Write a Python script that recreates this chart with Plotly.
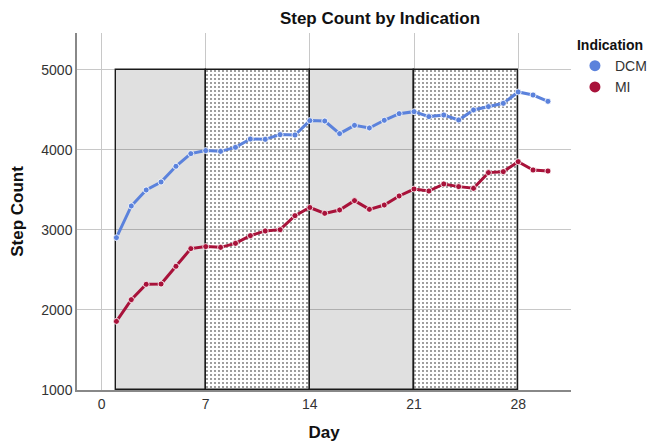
import plotly.graph_objects as go

days = list(range(1, 31))
dcm = [2904, 3300, 3500, 3600, 3796, 3954, 3992, 3983, 4033, 4137,
       4133, 4192, 4187, 4367, 4362, 4204, 4308, 4275, 4371, 4454,
       4479, 4417, 4437, 4375, 4500, 4542, 4583, 4725, 4687, 4608]
mi = [1858, 2129, 2321, 2325, 2546, 2767, 2792, 2783, 2833, 2929,
      2988, 3004, 3179, 3281, 3208, 3250, 3367, 3258, 3312, 3425,
      3512, 3487, 3575, 3542, 3521, 3717, 3729, 3854, 3750, 3737]

period_start = [1, 7, 14, 21]
period_end = [7, 14, 21, 28]
period_style = ["solid", "dotted", "solid", "dotted"]
band_bottom = 1000
band_top = 5000

x_ticks = [0, 7, 14, 21, 28]
y_ticks = [1000, 2000, 3000, 4000, 5000]

DCM_COLOR = "#5B82DC"
MI_COLOR = "#A8123A"
FONT = "Arial, Liberation Sans, sans-serif"

fig = go.Figure()

def band_trace(style):
    idx = [i for i, s in enumerate(period_style) if s == style]
    xs = [(period_start[i] + period_end[i]) / 2 for i in idx]
    ws = [period_end[i] - period_start[i] for i in idx]
    hs = [band_top - band_bottom for _ in idx]
    marker = dict(line=dict(color="#1a1a1a", width=1.4))
    if style == "solid":
        marker["color"] = "rgba(0,0,0,0.12)"
    else:
        marker["color"] = "rgba(0,0,0,0)"
        marker["pattern"] = dict(shape=".", size=4, solidity=0.16,
                                 fgcolor="#707070", bgcolor="rgba(0,0,0,0)",
                                 fillmode="replace")
    return go.Bar(x=xs, y=hs, base=[band_bottom] * len(idx), width=ws,
                  marker=marker, showlegend=False, hoverinfo="skip")

fig.add_trace(band_trace("solid"))
fig.add_trace(band_trace("dotted"))

for name, vals, col in [("DCM", dcm, DCM_COLOR), ("MI", mi, MI_COLOR)]:
    fig.add_trace(go.Scatter(
        x=days, y=vals, mode="lines+markers", name=name, showlegend=False,
        line=dict(color=col, width=3),
        marker=dict(size=6, color=col, line=dict(color="white", width=0.8)),
    ))
    fig.add_trace(go.Scatter(
        x=[None], y=[None], mode="markers", name=name,
        marker=dict(size=11, color=col),
    ))

fig.update_layout(
    width=649, height=442,
    margin=dict(l=77, r=78, t=33, b=52, autoexpand=False),
    paper_bgcolor="white", plot_bgcolor="white",
    font=dict(family=FONT, size=14, color="#333333"),
    title=dict(text="<b>Step Count by Indication</b>", x=380 / 649, xanchor="center",
               y=1 - 18 / 442, yanchor="middle",
               font=dict(size=17, color="#111111")),
    showlegend=True,
    legend=dict(
        title=dict(text="<b>Indication</b>", font=dict(size=14, color="#111111")),
        x=1.008, xanchor="left", y=1.003, yanchor="top",
        font=dict(size=14, color="#333333"),
        itemwidth=30, tracegroupgap=0, bgcolor="rgba(0,0,0,0)",
    ),
    bargap=0,
)

fig.update_xaxes(
    range=[-1.65, 31.55], tickvals=x_ticks, ticktext=[str(t) for t in x_ticks],
    showgrid=True, gridcolor="#c8c8c8", gridwidth=1,
    showline=True, linecolor="#888888", linewidth=1.5,
    ticks="", zeroline=False, automargin=False,
    title=dict(text="<b>Day</b>", font=dict(size=17, color="#111111"), standoff=16),
)
fig.update_yaxes(
    range=[1000, 5462], tickvals=y_ticks, ticktext=[str(t) for t in y_ticks],
    showgrid=True, gridcolor="#c8c8c8", gridwidth=1,
    showline=True, linecolor="#888888", linewidth=1.5,
    ticks="", zeroline=False, automargin=False,
    title=dict(text="<b>Step Count</b>", font=dict(size=17, color="#111111"), standoff=13),
)

fig.write_html(
    "out.html",
    config={"displayModeBar": False},
    post_script="document.body.style.margin='0';document.body.style.padding='0';",
)
